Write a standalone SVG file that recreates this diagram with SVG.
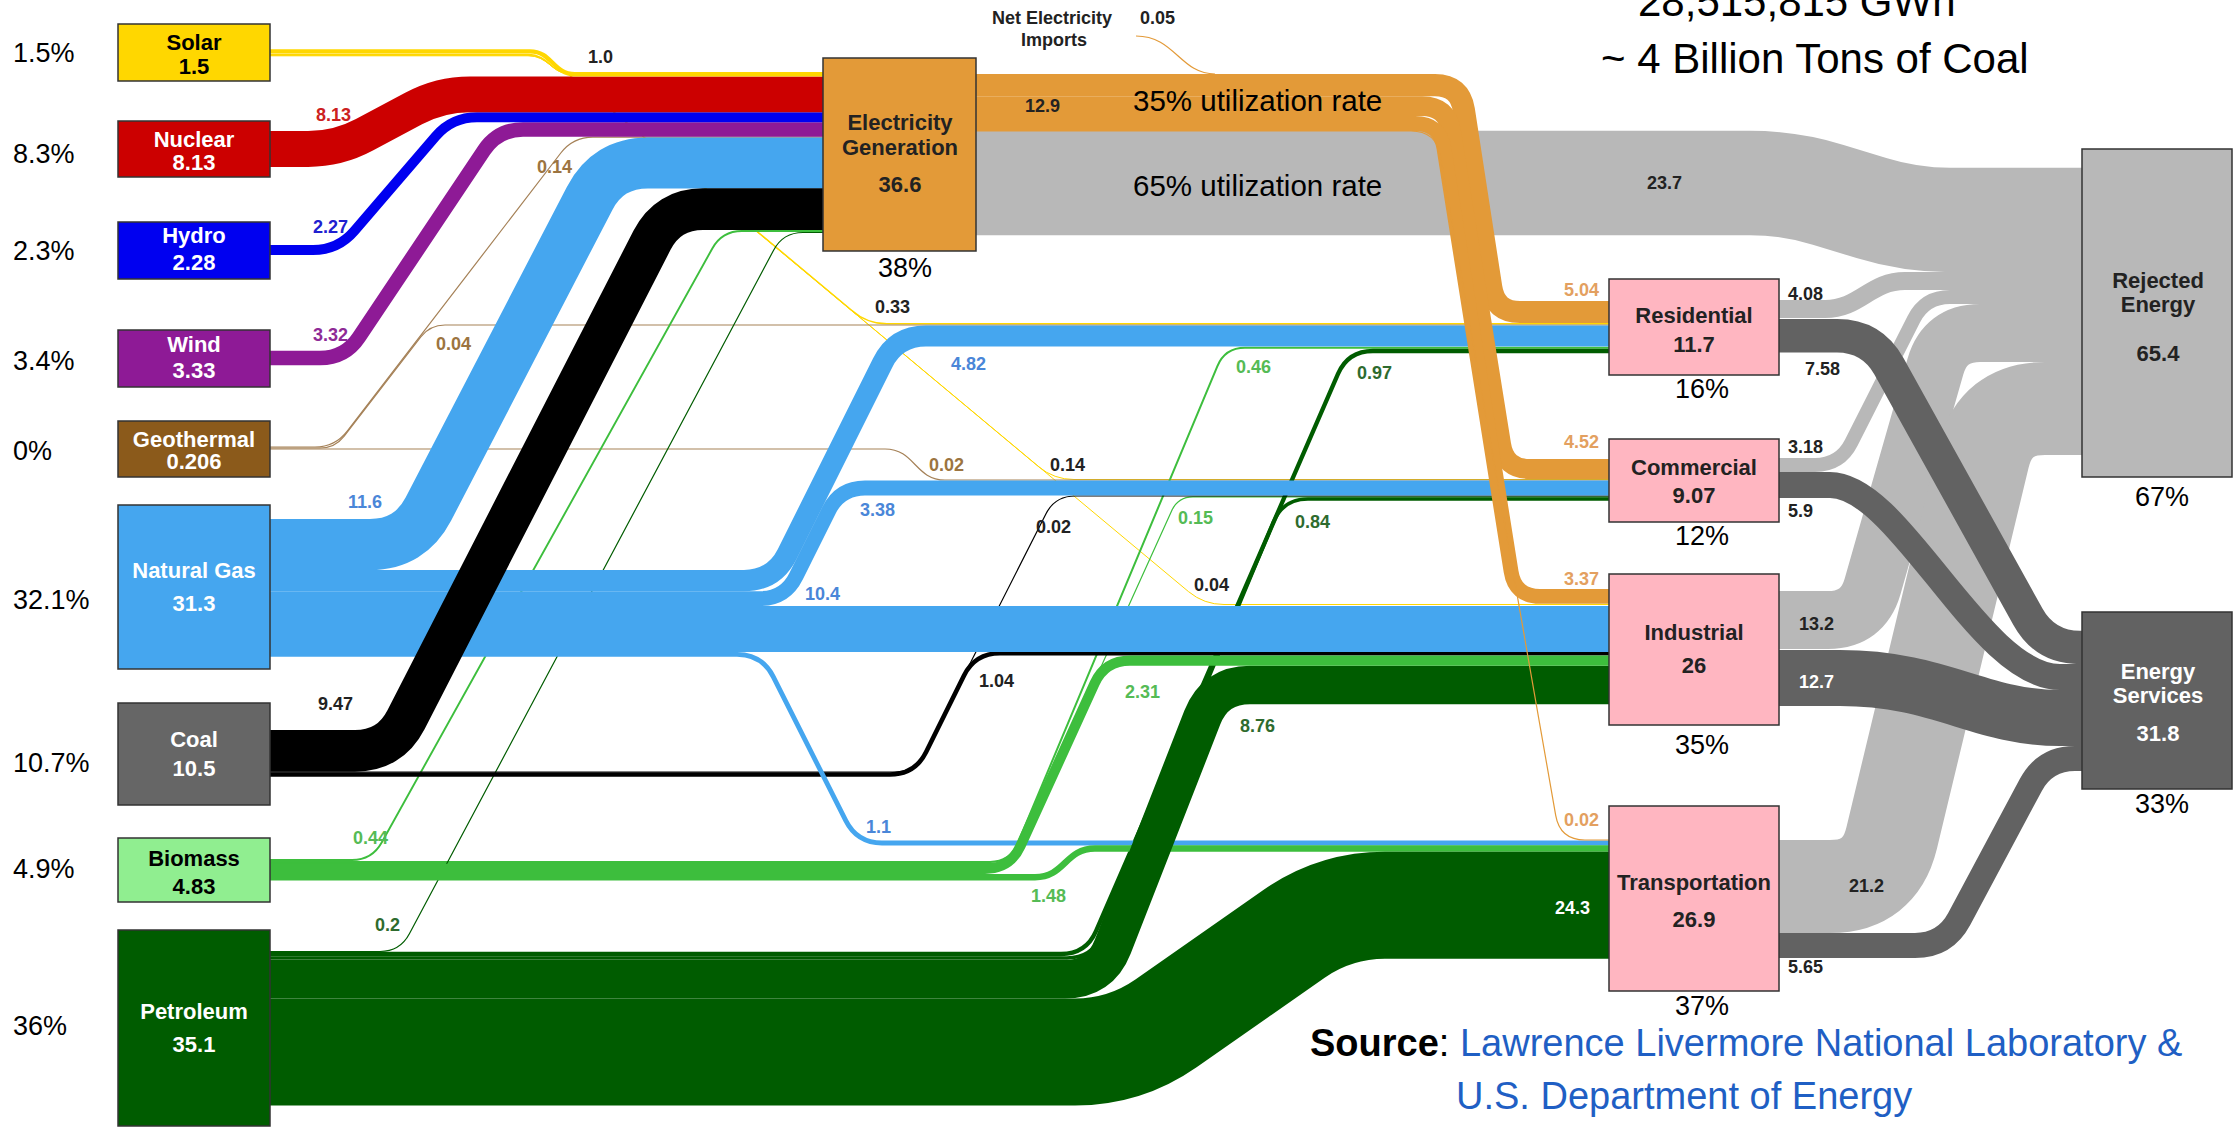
<svg xmlns="http://www.w3.org/2000/svg" width="2233" height="1128" viewBox="0 0 2233 1128">
<style>
.l{fill:none}
.so{stroke:#FFD700}.nu{stroke:#CC0000}.hy{stroke:#0000F0}.wi{stroke:#8E1A96}.ge{stroke:#A58157}
.ng{stroke:#45A6EF}.co{stroke:#000}.bi{stroke:#3DBE3D}.pe{stroke:#005C00}.el{stroke:#E39A38}
.rj{stroke:#B8B8B8}.sv{stroke:#626262}
.nb{stroke:#333;stroke-width:1.5}
text{font-family:"Liberation Sans",Arial,sans-serif}
.nl{font-size:22px;font-weight:bold;text-anchor:middle}
.fl{font-size:18px;font-weight:bold}
.pc{font-size:27px}
.mid{text-anchor:middle}
.w{fill:#fff}.k{fill:#222}
.cb{fill:#4A86D8}.cg{fill:#55BB55}.cd{fill:#2E6B2E}.ct{fill:#9C7440}.co2{fill:#E3A060}
</style>
<rect width="2233" height="1128" fill="#fff"/>

<g id="connectors">
  <!-- rejected from electricity -->
  <path class="l rj" stroke-width="104.3" d="M 976 183 H 1750 Q 1790 183 1828.2 194.8 L 1871.8 208.2 Q 1910 220 1950 220 H 2082"/>
  <!-- thin lines (underneath) -->
  <path class="l so" stroke-width="1.5" d="M 270 54.5 H 528 C 548 54.5 552 73 567 73 L 851.6 310.2 Q 867 323.8 887 323.8 H 1609"/>
  <path class="l so" stroke-width="1" d="M 270 55.3 H 528 C 548 55.3 552 73 567 73 L 1038.6 466.7 Q 1054 479.5 1074 479.5 H 1609"/>
  <path class="l so" stroke-width="1" d="M 270 55.8 H 528 C 548 55.8 552 73 567 73 L 1188.6 591.7 Q 1204 604.5 1224 604.5 H 1609"/>
  <path class="l ge" stroke-width="1.2" d="M 270 447 H 315 Q 335 447 347.2 431.1 L 560.8 153 Q 573 137.1 593 137.1 H 823"/>
  <path class="l ge" stroke-width="1.2" d="M 270 448 H 320 Q 335 448 344.2 436.1 L 420.8 336.9 Q 430 325 445 325 H 1609"/>
  <path class="l ge" stroke-width="1.2" d="M 270 449 H 885 C 915 449 915 480 945 480 H 1609"/>
  <path class="l bi" stroke-width="1.9" d="M 270 860 H 352 Q 372 860 381.7 842.5 L 712.3 248.5 Q 722 231 742 231 H 823"/>
  <path class="l bi" stroke-width="2" d="M 270 862 H 990 Q 1010 862 1017.7 843.5 L 1217.3 366.3 Q 1225 347.8 1245 347.8 H 1609"/>
  <path class="l bi" stroke-width="1.2" d="M 270 863.4 H 997 Q 1012 863.4 1018.2 849.7 L 1171.8 510.5 Q 1178 496.8 1193 496.8 H 1609"/>
  <path class="l pe" stroke-width="1.2" d="M 270 951.5 H 380 Q 400 951.5 409.4 933.8 L 773.6 250.2 Q 783 232.5 803 232.5 H 823"/>
  <path class="l pe" stroke-width="4.3" d="M 270 954 H 1061 Q 1086 954 1096 931.1 L 1338 373.9 Q 1348 351 1373 351 H 1609"/>
  <path class="l pe" stroke-width="3.7" d="M 270 958 H 1067 Q 1092 958 1101.6 934.9 L 1273.4 522.1 Q 1283 499 1308 499 H 1609"/>
  <path class="l co" stroke-width="1.2" d="M 270 772 H 895 Q 915 772 924 754.2 L 1046 513.8 Q 1055 496 1075 496 H 1609"/>
  <path class="l co" stroke-width="4.6" d="M 270 774.5 H 890 Q 915 774.5 926.1 752.1 L 963.9 675.7 Q 975 653.3 1000 653.3 H 1609"/>
  <path class="l ng" stroke-width="4.8" d="M 270 654.3 H 737 Q 762 654.3 773.2 676.6 L 845.8 820.7 Q 857 843 882 843 H 1609"/>
  <path class="l bi" stroke-width="6.5" d="M 270 877.2 H 1035 C 1065 877.2 1065 848.5 1095 848.5 H 1609"/>
  <!-- thick left bands -->
  <path class="l pe" stroke-width="107" d="M 270 1052 H 1075 Q 1125 1052 1166 1023.4 L 1294 933.9 Q 1335 905.3 1385 905.3 H 1609"/>
  <path class="l pe" stroke-width="38.5" d="M 270 979.3 H 1065 Q 1100 979.3 1112.7 946.7 L 1202.3 717.6 Q 1215 685 1250 685 H 1609"/>
  <path class="l bi" stroke-width="10.2" d="M 270 868.8 H 985 Q 1010 868.8 1020.4 846.1 L 1094.6 683.4 Q 1105 660.7 1130 660.7 H 1609"/>
  <path class="l ng" stroke-width="45.8" d="M 270 629 H 1609"/>
  <path class="l ng" stroke-width="51" d="M 270 544.5 H 370 Q 410 544.5 428.4 509 L 589.6 198.4 Q 608 162.9 648 162.9 H 823"/>
  <path class="l ng" stroke-width="21.2" d="M 270 580.6 H 744 Q 774 580.6 787.4 553.7 L 882.6 362.9 Q 896 336 926 336 H 1609"/>
  <path class="l ng" stroke-width="14.9" d="M 270 598.6 H 760 Q 785 598.6 796.1 576.2 L 828.9 510.4 Q 840 488 865 488 H 1609"/>
  <path class="l co" stroke-width="41.7" d="M 270 750.8 H 355 Q 390 750.8 406 719.7 L 652 240.3 Q 668 209.2 703 209.2 H 823"/>
  <path class="l wi" stroke-width="14.6" d="M 270 358 H 320 Q 345 358 358.9 337.2 L 484.1 150.3 Q 498 129.5 523 129.5 H 823"/>
  <path class="l hy" stroke-width="10" d="M 270 250 H 313 Q 338 250 354.3 231 L 435.7 136.2 Q 452 117.2 477 117.2 H 823"/>
  <path class="l nu" stroke-width="35.8" d="M 270 149 H 308 Q 338 149 364.4 134.8 L 413.6 108.5 Q 440 94.3 470 94.3 H 823"/>
  <path class="l so" stroke-width="4.4" d="M 270 51.4 H 530 C 552 51.4 553 74.2 575 74.2 H 823"/>
  <!-- electricity to sectors -->
  <path class="l el" stroke-width="22.2" d="M 976 85.1 H 1435 Q 1460 85.1 1463.8 109.8 L 1491.2 287.3 Q 1495 312 1520 312 H 1609"/>
  <path class="l el" stroke-width="19.9" d="M 976 106.1 H 1422 Q 1447 106.1 1450.9 130.8 L 1501.1 444.3 Q 1505 469 1530 469 H 1609"/>
  <path class="l el" stroke-width="14.8" d="M 976 123.5 H 1415 Q 1440 123.5 1443.9 148.2 L 1511.1 571.7 Q 1515 596.4 1540 596.4 H 1609"/>
  <path class="l el" stroke-width="1.2" d="M 976 131 H 1411 Q 1436 131 1440.3 155.6 L 1555.7 815.4 Q 1560 840 1585 840 H 1609"/>
  <path class="l el" stroke-width="1.2" d="M 1136 36 C 1175 36 1180 74 1215 74"/>
  <!-- sectors to rejected -->
  <path class="l rj" stroke-width="18" d="M 1779 309 H 1825 C 1860 309 1870 281 1905 281 H 2082"/>
  <path class="l rj" stroke-width="14" d="M 1779 465 H 1815 Q 1840 465 1851.3 442.7 L 1913.7 319.3 Q 1925 297 1950 297 H 2082"/>
  <path class="l rj" stroke-width="58" d="M 1779 620 H 1828 Q 1863 620 1872.6 586.4 L 1935.4 366.6 Q 1945 333 1980 333 H 2082"/>
  <path class="l rj" stroke-width="93" d="M 1779 886.5 H 1830 Q 1880 886.5 1891.7 837.9 L 1983.3 457.1 Q 1995 408.5 2045 408.5 H 2082"/>
  <!-- sectors to services -->
  <path class="l sv" stroke-width="33.4" d="M 1779 335.7 H 1837 Q 1872 335.7 1889 366.3 L 2028 616.9 Q 2045 647.5 2080 647.5 H 2082"/>
  <path class="l sv" stroke-width="26" d="M 1779 485 H 1830 C 1900 485 1980 677 2060 677 H 2082"/>
  <path class="l sv" stroke-width="56" d="M 1779 678 H 1840 C 1940 678 1980 718 2060 718 H 2082"/>
  <path class="l sv" stroke-width="25" d="M 1779 945.5 H 1915 Q 1945 945.5 1959.2 919 L 2030.8 785 Q 2045 758.5 2075 758.5 H 2082"/>
</g>

<g id="flow-labels" class="fl">
  <text x="588" y="63" class="k">1.0</text>
  <text x="316" y="121" fill="#CC2020">8.13</text>
  <text x="313" y="233" fill="#2020D0">2.27</text>
  <text x="313" y="341" fill="#8E2A96">3.32</text>
  <text x="537" y="173" class="ct">0.14</text>
  <text x="436" y="350" class="ct">0.04</text>
  <text x="348" y="508" class="cb">11.6</text>
  <text x="318" y="710" class="k">9.47</text>
  <text x="353" y="844" class="cg">0.44</text>
  <text x="375" y="931" class="cd">0.2</text>
  <text x="1025" y="112" class="k">12.9</text>
  <text x="875" y="313" class="k">0.33</text>
  <text x="951" y="370" class="cb">4.82</text>
  <text x="929" y="471" class="ct">0.02</text>
  <text x="1050" y="471" class="k">0.14</text>
  <text x="860" y="516" class="cb">3.38</text>
  <text x="1036" y="533" class="k">0.02</text>
  <text x="805" y="600" class="cb">10.4</text>
  <text x="979" y="687" class="k">1.04</text>
  <text x="866" y="833" class="cb">1.1</text>
  <text x="1031" y="902" class="cg">1.48</text>
  <text x="1125" y="698" class="cg">2.31</text>
  <text x="1240" y="732" class="cd">8.76</text>
  <text x="1178" y="524" class="cg">0.15</text>
  <text x="1295" y="528" class="cd">0.84</text>
  <text x="1194" y="591" class="k">0.04</text>
  <text x="1236" y="373" class="cg">0.46</text>
  <text x="1357" y="379" class="cd">0.97</text>
  <text x="1564" y="296" class="co2">5.04</text>
  <text x="1564" y="448" class="co2">4.52</text>
  <text x="1564" y="585" class="co2">3.37</text>
  <text x="1564" y="826" class="co2">0.02</text>
  <text x="1555" y="914" class="w">24.3</text>
  <text x="1647" y="189" class="k">23.7</text>
  <text x="1140" y="24" class="k">0.05</text>
  <text x="1052" y="24" class="k mid">Net Electricity</text>
  <text x="1054" y="46" class="k mid">Imports</text>
  <text x="1788" y="300" class="k">4.08</text>
  <text x="1805" y="375" class="k">7.58</text>
  <text x="1788" y="453" class="k">3.18</text>
  <text x="1788" y="517" class="k">5.9</text>
  <text x="1799" y="630" class="k">13.2</text>
  <text x="1799" y="688" class="w">12.7</text>
  <text x="1849" y="892" class="k">21.2</text>
  <text x="1788" y="973" class="k">5.65</text>
</g>

<g id="solar"><rect class="nb" x="118" y="24" width="152" height="57" fill="#FFD700"/><text class="nl" x="194" y="50">Solar</text><text class="nl" x="194" y="74">1.5</text></g>
<g id="nuclear"><rect class="nb" x="118" y="121" width="152" height="56" fill="#CC0000"/><text class="nl w" x="194" y="147">Nuclear</text><text class="nl w" x="194" y="170">8.13</text></g>
<g id="hydro"><rect class="nb" x="118" y="222" width="152" height="57" fill="#0000F0"/><text class="nl w" x="194" y="243">Hydro</text><text class="nl w" x="194" y="270">2.28</text></g>
<g id="wind"><rect class="nb" x="118" y="330" width="152" height="57" fill="#8E1A96"/><text class="nl w" x="194" y="352">Wind</text><text class="nl w" x="194" y="378">3.33</text></g>
<g id="geothermal"><rect class="nb" x="118" y="421" width="152" height="56" fill="#8B5A1B"/><text class="nl w" x="194" y="447">Geothermal</text><text class="nl w" x="194" y="469">0.206</text></g>
<g id="natural-gas"><rect class="nb" x="118" y="505" width="152" height="164" fill="#45A6EF"/><text class="nl w" x="194" y="578">Natural Gas</text><text class="nl w" x="194" y="611">31.3</text></g>
<g id="coal"><rect class="nb" x="118" y="703" width="152" height="102" fill="#666"/><text class="nl w" x="194" y="747">Coal</text><text class="nl w" x="194" y="776">10.5</text></g>
<g id="biomass"><rect class="nb" x="118" y="838" width="152" height="64" fill="#90EE90"/><text class="nl" x="194" y="866">Biomass</text><text class="nl" x="194" y="894">4.83</text></g>
<g id="petroleum"><rect class="nb" x="118" y="930" width="152" height="196" fill="#005C00"/><text class="nl w" x="194" y="1019">Petroleum</text><text class="nl w" x="194" y="1052">35.1</text></g>
<g id="electricity-generation"><rect class="nb" x="823" y="58" width="153" height="193" fill="#E39A38"/><text class="nl k" x="900" y="130">Electricity</text><text class="nl k" x="900" y="155">Generation</text><text class="nl k" x="900" y="192">36.6</text></g>
<g id="residential"><rect class="nb" x="1609" y="279" width="170" height="96" fill="#FFB6C1"/><text class="nl k" x="1694" y="323">Residential</text><text class="nl k" x="1694" y="352">11.7</text></g>
<g id="commercial"><rect class="nb" x="1609" y="439" width="170" height="83" fill="#FFB6C1"/><text class="nl k" x="1694" y="475">Commercial</text><text class="nl k" x="1694" y="503">9.07</text></g>
<g id="industrial"><rect class="nb" x="1609" y="574" width="170" height="151" fill="#FFB6C1"/><text class="nl k" x="1694" y="640">Industrial</text><text class="nl k" x="1694" y="673">26</text></g>
<g id="transportation"><rect class="nb" x="1609" y="806" width="170" height="185" fill="#FFB6C1"/><text class="nl k" x="1694" y="890">Transportation</text><text class="nl k" x="1694" y="927">26.9</text></g>
<g id="rejected-energy"><rect class="nb" x="2082" y="149" width="150" height="328" fill="#B8B8B8"/><text class="nl k" x="2158" y="288">Rejected</text><text class="nl k" x="2158" y="312">Energy</text><text class="nl k" x="2158" y="361">65.4</text></g>
<g id="energy-services"><rect class="nb" x="2082" y="612" width="150" height="177" fill="#626262"/><text class="nl w" x="2158" y="679">Energy</text><text class="nl w" x="2158" y="703">Services</text><text class="nl w" x="2158" y="741">31.8</text></g>

<g id="percentages" class="pc">
  <text x="13" y="62">1.5%</text>
  <text x="13" y="163">8.3%</text>
  <text x="13" y="260">2.3%</text>
  <text x="13" y="370">3.4%</text>
  <text x="13" y="460">0%</text>
  <text x="13" y="609">32.1%</text>
  <text x="13" y="772">10.7%</text>
  <text x="13" y="878">4.9%</text>
  <text x="13" y="1035">36%</text>
  <text class="mid" x="905" y="277">38%</text>
  <text class="mid" x="1702" y="398">16%</text>
  <text class="mid" x="1702" y="545">12%</text>
  <text class="mid" x="1702" y="754">35%</text>
  <text class="mid" x="1702" y="1015">37%</text>
  <text class="mid" x="2162" y="506">67%</text>
  <text class="mid" x="2162" y="813">33%</text>
</g>

<g id="annotations">
  <text x="1133" y="111" font-size="29.5">35% utilization rate</text>
  <text x="1133" y="196" font-size="29.5">65% utilization rate</text>
  <text x="1638" y="16" font-size="42">28,515,815 GWh</text>
  <text x="1601" y="73" font-size="42">~ 4 Billion Tons of Coal</text>
  <text x="1310" y="1056" font-size="38"><tspan font-weight="bold">Source</tspan>: <tspan fill="#1F5FC4">Lawrence Livermore National Laboratory &amp;</tspan></text>
  <text x="1456" y="1109" font-size="38" fill="#1F5FC4">U.S. Department of Energy</text>
</g>
</svg>
